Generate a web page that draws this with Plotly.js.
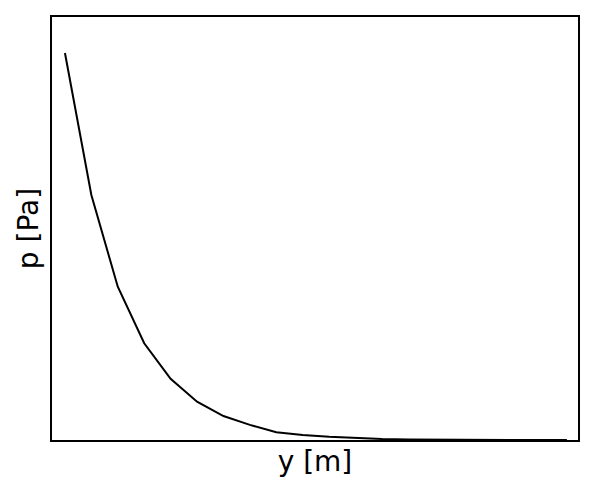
<!DOCTYPE html>
<html>
<head>
<meta charset="utf-8">
<script src="https://cdn.plot.ly/plotly-3.0.1.min.js"></script>
<style>
  html, body { margin: 0; padding: 0; background: #fff; }
  #chart { width: 594px; height: 492px; }
</style>
</head>
<body>
<div id="chart"></div>
<script>
// sample positions (no tick labels in the original, so index-like)
const yPos = [0, 1, 2, 3, 4, 5, 6, 7, 8, 9, 10, 11, 12, 13, 14, 15, 16, 17, 18, 19];
// pressure
const pressure = [1000, 633, 396, 250, 158, 99, 62, 39, 20, 13, 8.5, 5, 2.6, 1.3, 0.6, 0.3, 0.15, 0.08, 0.04, 0.02];

const trace = {
  x: yPos,
  y: pressure,
  type: 'scatter',
  mode: 'lines',
  line: { color: '#000', width: 2 },
  hoverinfo: 'skip',
};

const axisBase = {
  showline: true,
  mirror: true,
  linecolor: '#000',
  linewidth: 2,
  showgrid: false,
  zeroline: false,
  showticklabels: false,
  ticks: '',
};

const layout = {
  width: 594,
  height: 492,
  margin: { l: 52, r: 16, t: 17, b: 52 },
  paper_bgcolor: '#fff',
  plot_bgcolor: '#fff',
  showlegend: false,
  font: { family: 'DejaVu Sans, sans-serif', color: '#000' },
  xaxis: Object.assign({}, axisBase, {
    range: [-0.49, 19.42],
    title: { text: 'y [m]', font: { size: 28 }, standoff: 10 },
  }),
  yaxis: Object.assign({}, axisBase, {
    range: [0, 1093],
    title: { text: 'p [Pa]', font: { size: 28 }, standoff: 3 },
  }),
};

Plotly.newPlot('chart', [trace], layout, { displayModeBar: false, staticPlot: true });
</script>
</body>
</html>
